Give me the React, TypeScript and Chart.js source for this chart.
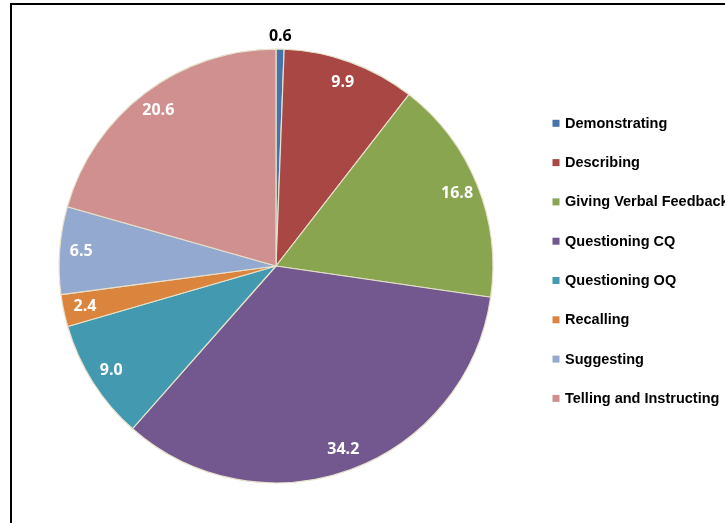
import React, { useEffect, useRef } from "react";
import { Chart, registerables } from "chart.js";

Chart.register(...registerables);

const categories: string[] = [
  "Demonstrating",
  "Describing",
  "Giving Verbal Feedback",
  "Questioning CQ",
  "Questioning OQ",
  "Recalling",
  "Suggesting",
  "Telling and Instructing",
];
const values: number[] = [0.6, 9.9, 16.8, 34.2, 9.0, 2.4, 6.5, 20.6];
const colors: string[] = [
  "#4573AC",
  "#A94744",
  "#8AA54F",
  "#72588E",
  "#4399AF",
  "#DB843D",
  "#94A9CF",
  "#D09090",
];

const W = 725;
const H = 523;

const framePlugin = {
  id: "frame",
  beforeDraw(chart: any) {
    const ctx = chart.ctx;
    ctx.save();
    ctx.fillStyle = "#ffffff";
    ctx.fillRect(0, 0, W, H);
    ctx.strokeStyle = "#000000";
    ctx.lineWidth = 2;
    ctx.beginPath();
    ctx.moveTo(11, H + 10);
    ctx.lineTo(11, 4);
    ctx.lineTo(W + 10, 4);
    ctx.stroke();
    ctx.restore();
  },
};

const labelPlugin = {
  id: "sliceLabels",
  afterDatasetsDraw(chart: any) {
    const ctx = chart.ctx;
    const meta = chart.getDatasetMeta(0);
    const data = chart.data.datasets[0].data as number[];
    ctx.save();
    ctx.textAlign = "center";
    ctx.textBaseline = "middle";
    ctx.font = "bold 16px 'Open Sans', 'DejaVu Sans', sans-serif";
    meta.data.forEach((arc: any, i: number) => {
      const p = arc.getProps(["x", "y", "startAngle", "endAngle", "outerRadius"], true);
      const mid = (p.startAngle + p.endAngle) / 2;
      const small = data[i] < 1;
      const r = small ? p.outerRadius + 13 : p.outerRadius * 0.9;
      const tx = p.x + Math.cos(mid) * r;
      const ty = p.y + Math.sin(mid) * r;
      ctx.fillStyle = small ? "#000000" : "#ffffff";
      ctx.fillText(data[i].toFixed(1), tx, ty);
    });
    ctx.restore();
  },
};

const legendPlugin = {
  id: "sideLegend",
  afterDraw(chart: any) {
    const ctx = chart.ctx;
    const area = chart.chartArea;
    const cy = (area.top + area.bottom) / 2;
    const x0 = area.right + 59;
    const y0 = cy - 142.7;
    const step = 39.3;
    const labels = chart.data.labels as string[];
    const bg = chart.data.datasets[0].backgroundColor as string[];
    ctx.save();
    ctx.textAlign = "left";
    ctx.textBaseline = "middle";
    ctx.font = "bold 14.5px 'Liberation Sans', Arial, sans-serif";
    labels.forEach((lab, i) => {
      const y = y0 + i * step;
      ctx.fillStyle = bg[i];
      ctx.fillRect(x0, y - 3.5, 7, 7);
      ctx.fillStyle = "#000000";
      ctx.fillText(lab, x0 + 12.5, y + 0.5);
    });
    ctx.restore();
  },
};

export default function App() {
  const ref = useRef<HTMLCanvasElement | null>(null);

  useEffect(() => {
    if (!ref.current) return;
    const chart = new Chart(ref.current, {
      type: "pie",
      data: {
        labels: categories,
        datasets: [
          {
            data: values,
            backgroundColor: colors,
            borderColor: "#E6E1CC",
            borderWidth: 1.2,
          },
        ],
      },
      options: {
        responsive: false,
        animation: false,
        devicePixelRatio: 1,
        layout: {
          padding: { left: 58.5, top: 48.5, right: 231.5, bottom: 39.5 },
        },
        plugins: {
          legend: { display: false },
          tooltip: { enabled: false },
          title: { display: false },
        },
      },
      plugins: [framePlugin, labelPlugin, legendPlugin],
    });
    return () => chart.destroy();
  }, []);

  return (
    <div
      style={{
        position: "fixed",
        left: 0,
        top: 0,
        width: W,
        height: H,
        overflow: "hidden",
        background: "#ffffff",
      }}
    >
      <canvas ref={ref} width={W} height={H} style={{ width: W, height: H, display: "block" }} />
    </div>
  );
}
